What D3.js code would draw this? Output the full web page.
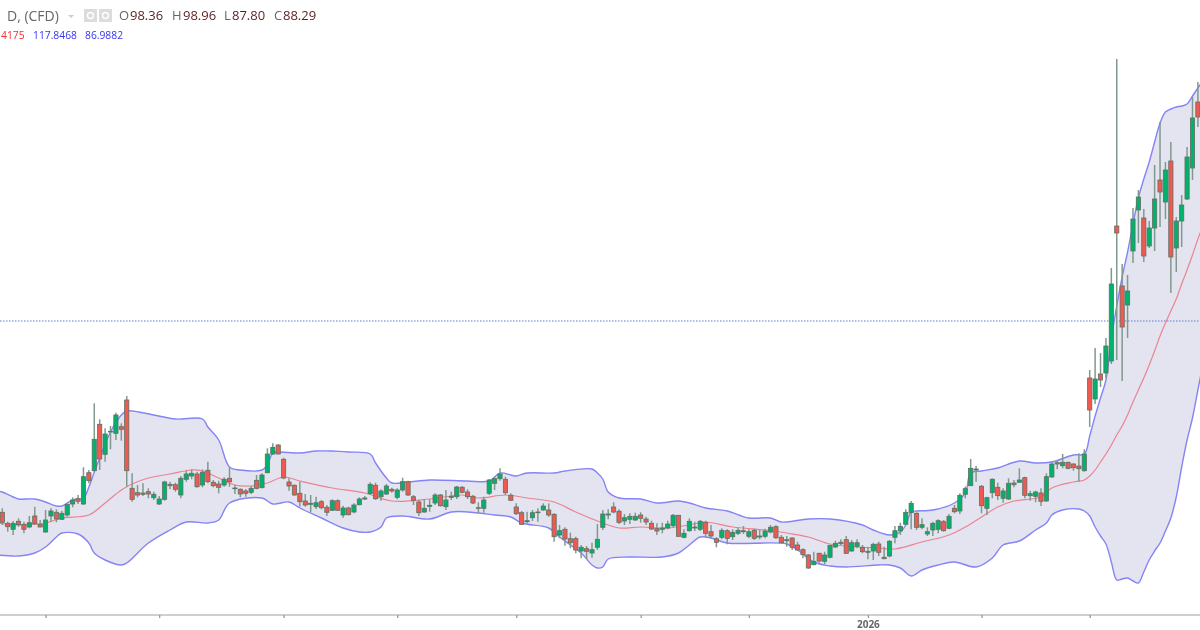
<!DOCTYPE html>
<html lang="en">
  <head>
    <meta charset="UTF-8" />
    <title>D, (CFD)</title>
    <style>
      html, body { margin: 0; padding: 0; background: #fff; }
      svg { display: block; filter: blur(0.45px); }
      text { font-family: "Open Sans", "DejaVu Sans", sans-serif; }
    </style>
  </head>
  <body>
    <div class="container"></div>

    <script src="https://d3js.org/d3.v7.min.js"></script>
    <script>
      // open, high, low, close of each session
      const ohlc = [
        [75.27,75.67,74.0,74.27],[74.17,74.33,73.33,73.83],[73.57,74.4,73.0,74.17],[74.37,74.67,73.83,74.03],
        [74.07,74.33,73.17,73.57],[73.8,74.9,73.67,74.23],[74.9,75.83,74.0,74.13],[74.07,74.5,73.77,73.8],
        [73.3,75.5,73.23,74.5],[74.9,75.67,74.33,75.4],[75.27,75.57,74.27,74.6],[74.57,75.43,74.5,75.17],
        [75.0,76.23,74.83,76.07],[76.1,76.77,75.77,76.5],[76.63,77.0,76.1,76.37],[76.1,79.77,76.0,78.83],
        [79.23,79.5,78.17,78.43],[79.43,86.17,79.33,82.57],[84.07,84.57,79.5,80.6],[81.07,83.67,80.33,83.1],
        [83.3,83.9,81.57,83.37],[83.17,85.23,82.5,85.0],[83.83,84.17,82.43,83.57],[86.5,86.9,77.83,79.43],
        [77.67,79.17,76.33,76.57],[77.23,78.0,76.77,77.0],[77.2,78.17,76.9,77.07],[77.33,77.67,76.67,77.1],
        [76.73,77.33,76.5,77.07],[76.1,76.9,76.0,76.6],[76.57,78.43,76.43,78.3],[78.07,78.33,77.57,77.93],
        [78.03,78.23,77.33,77.57],[77.0,78.9,76.67,78.67],[78.57,79.43,78.33,79.1],[78.9,79.57,78.57,79.17],
        [79.1,79.33,77.73,77.83],[78.0,79.57,77.77,79.27],[79.47,80.33,78.17,78.33],[78.27,78.5,77.77,77.93],
        [78.1,78.43,77.17,77.77],[78.0,78.77,77.83,78.57],[78.67,79.77,77.83,78.33],[77.63,78.0,77.1,77.7],
        [77.57,77.67,76.77,77.1],[77.4,77.6,76.83,77.17],[77.27,77.9,77.1,77.67],[78.47,79.0,77.57,77.67],
        [77.73,79.17,77.67,79.0],[79.23,81.67,79.17,81.1],[81.1,82.17,81.0,81.77],[82.0,82.07,81.07,81.1],
        [80.57,80.73,78.57,78.7],[78.3,78.67,77.43,77.9],[77.97,78.07,76.93,77.0],[77.17,78.33,75.83,76.33],
        [76.4,77.1,75.83,76.0],[76.07,77.0,75.27,76.17],[75.83,76.83,75.6,76.23],[76.33,76.5,75.57,75.73],
        [75.77,76.0,74.9,75.27],[75.47,76.57,75.4,76.43],[76.43,76.57,75.43,75.47],[75.0,75.93,74.73,75.7],
        [75.7,75.83,74.97,75.03],[75.3,76.17,75.17,76.0],[76.03,76.77,75.97,76.6],[76.6,76.9,76.5,76.7],
        [77.13,78.27,77.0,78.07],[77.97,78.23,76.5,76.63],[76.83,77.57,76.43,77.4],[77.1,78.1,77.0,77.9],
        [77.57,77.73,77.23,77.4],[76.77,77.67,76.57,77.5],[77.5,78.73,77.33,78.33],[78.33,78.43,76.9,77.0],
        [76.83,77.0,76.0,76.47],[76.3,76.5,74.9,75.23],[75.3,76.57,75.23,75.67],[75.87,76.57,75.33,75.97],
        [76.2,77.17,76.0,77.0],[77.0,77.1,75.83,75.93],[75.83,77.5,75.5,76.5],[76.77,77.33,76.5,76.87],
        [76.83,77.9,76.6,77.8],[77.77,77.9,77.17,77.27],[77.3,77.57,76.6,76.83],[76.87,77.0,76.1,76.2],
        [75.73,76.27,75.17,75.67],[75.67,76.83,75.23,76.5],[77.17,78.6,77.0,78.5],[78.17,78.83,77.5,78.63],
        [78.63,79.67,78.43,79.1],[78.57,78.83,77.0,77.23],[76.97,77.17,76.4,76.47],[75.8,76.17,75.0,75.13],
        [75.23,75.4,74.0,74.07],[74.33,75.33,74.17,74.43],[74.73,75.5,74.4,75.23],[75.3,75.67,74.33,75.23],
        [75.5,76.17,75.43,75.9],[75.5,76.17,74.83,75.0],[75.07,75.17,72.33,72.83],[73.0,74.0,72.67,73.43],
        [73.57,73.77,71.93,72.6],[72.63,73.23,71.67,72.23],[72.63,72.83,71.17,71.5],[71.4,72.0,70.67,71.77],
        [71.63,71.9,70.6,71.37],[71.2,72.23,70.73,71.53],[71.77,74.1,71.5,72.57],[73.77,75.5,73.5,75.1],
        [75.0,75.57,74.57,75.1],[75.8,76.27,75.17,75.3],[75.37,75.57,74.1,74.27],[74.4,75.1,74.0,74.73],
        [74.57,75.17,74.1,74.87],[74.5,75.23,74.4,74.87],[75.0,75.27,74.23,74.67],[74.6,74.83,74.0,74.3],
        [74.17,74.43,73.5,73.6],[73.63,74.17,73.0,73.4],[73.57,74.23,73.17,73.7],[73.7,74.43,73.57,74.1],
        [73.93,75.1,73.77,74.97],[74.97,75.0,72.83,72.87],[72.77,73.57,72.67,73.17],[73.43,74.67,73.33,74.37],
        [73.7,74.33,73.4,73.8],[73.57,74.5,73.4,74.37],[74.27,74.43,72.77,73.17],[73.33,74.0,72.67,72.9],
        [72.63,72.77,71.77,72.27],[72.77,73.67,72.57,73.47],[73.43,73.57,72.07,72.67],[72.83,73.57,72.5,73.27],
        [73.17,73.73,73.0,73.47],[73.43,73.9,73.1,73.33],[72.87,73.57,72.67,73.33],[73.47,73.63,72.5,72.67],
        [72.8,73.5,72.57,72.9],[72.87,73.63,72.67,73.4],[73.3,74.0,73.17,73.77],[73.83,73.97,72.6,72.73],
        [72.77,73.0,72.17,72.23],[72.43,72.9,71.83,72.53],[72.7,72.77,71.5,71.77],[72.0,72.33,71.4,71.5],
        [71.53,71.67,70.67,71.03],[71.0,71.1,69.6,69.7],[70.03,71.33,69.97,70.37],[71.17,71.23,70.23,70.4],
        [70.37,71.33,70.1,71.0],[70.77,72.0,70.67,71.97],[71.8,72.43,71.73,72.17],[72.27,72.57,72.0,72.13],
        [72.53,72.9,71.1,71.17],[71.4,72.5,71.33,72.23],[71.87,72.57,71.67,72.23],[71.77,72.0,71.17,71.33],
        [71.37,71.83,70.57,71.27],[71.4,72.23,70.5,72.07],[72.1,72.33,70.9,71.27],[70.77,71.83,70.57,70.63],
        [70.9,72.5,70.77,72.37],[72.77,73.9,72.17,73.43],[73.4,74.23,73.0,73.87],[74.07,75.57,74.0,75.27],
        [75.23,76.4,73.57,76.17],[75.17,75.27,73.5,73.77],[73.77,74.67,73.57,74.03],[73.1,73.77,72.9,73.33],
        [73.5,74.33,72.9,74.17],[73.57,74.57,73.17,74.43],[74.33,74.5,73.33,73.43],[73.67,75.1,73.57,74.87],
        [75.67,76.0,75.17,75.33],[75.4,77.17,75.1,76.97],[77.07,77.83,76.67,77.63],[77.93,80.6,77.9,79.67],
        [79.5,79.9,78.33,79.6],[77.87,78.0,75.17,75.93],[75.67,76.83,75.0,76.73],[77.23,78.67,76.67,78.57],
        [77.77,78.23,76.5,76.93],[76.67,77.67,76.23,77.4],[76.6,78.67,76.5,78.17],[78.2,78.5,77.77,78.03],
        [78.27,79.67,78.23,78.5],[78.73,78.83,76.67,76.97],[76.93,77.43,76.43,77.13],[76.87,77.43,76.27,77.3],
        [77.2,77.67,75.9,76.37],[76.4,79.17,76.33,78.83],[78.8,80.33,78.73,80.1],[80.23,80.5,79.57,80.1],
        [79.93,81.1,79.67,80.27],[80.27,80.33,79.57,79.67],[80.1,80.17,79.43,79.73],[79.9,81.17,78.33,79.63],
        [79.43,81.57,79.33,81.1],[88.7,89.5,83.8,85.5],[86.6,91.7,86.1,88.6],[89.1,91.2,87.8,88.5],
        [89.2,92.7,88.7,91.9],[90.4,99.7,90.1,98.1],[103.9,120.6,90.5,103.2],[97.9,100.1,88.4,93.8],
        [96.0,99.0,92.7,97.4],[101.4,105.7,100.2,104.6],[105.5,107.5,102.2,106.8],[104.7,105.6,100.3,100.9],
        [101.9,104.4,101.7,103.7],[103.7,110.0,101.4,106.6],[108.5,114.3,103.8,107.3],[106.3,110.3,104.6,109.5],
        [110.4,112.3,97.2,100.8],[101.7,104.8,99.3,104.4],[104.4,107.0,101.8,106.0],[106.6,111.8,106.5,110.8],
        [109.7,116.8,108.5,114.7],[116.3,118.3,113.8,114.8]
      ];

      // bollinger bands, [session, value] read where the line bends
      const upper = [
        [-1,77.4],[0,77.3],[2,76.8],[3,76.6],[6,76.6],[8,76.3],[10,75.9],[11,75.9],[13,76.5],[15,76.7],[16,77.8],[17,79.3],
        [18,80.7],[20,83.3],[22,85.0],[23,85.4],[28,85.0],[32,84.6],[37,84.6],[38,83.8],[40,82.5],[42,79.8],[44,79.5],
        [48,79.5],[49,80.0],[50,81.2],[51,81.3],[55,81.2],[58,81.4],[61,81.4],[64,81.3],[68,81.1],[69,80.2],[71,78.7],
        [72,78.2],[75,78.3],[79,78.5],[86,78.4],[90,78.4],[92,79.2],[94,79.0],[95,78.9],[97,79.2],[102,79.2],[104,79.4],
        [109,79.6],[110,79.2],[111,78.6],[112,77.3],[114,76.7],[118,76.6],[121,76.2],[125,76.4],[127,76.2],[130,75.7],
        [134,75.4],[138,74.7],[142,74.7],[144,74.3],[149,74.6],[153,74.6],[159,74.0],[161,73.5],[164,73.0],[166,73.3],
        [167,74.0],[168,75.3],[169,75.4],[172,75.5],[176,76.2],[178,77.2],[179,79.2],[181,79.4],[184,79.7],[188,80.4],
        [191,80.2],[194,80.3],[198,81.0],[200,81.1],[201,82.9],[202,84.9],[203,86.7],[204,88.5],[205,92.7],[206,95.9],
        [207,98.8],[208,101.3],[209,104.1],[210,106.7],[211,108.6],[212,110.3],[213,112.3],[214,114.2],[215,115.3],
        [216,115.6],[217,115.8],[218,115.9],[219,116.1],[220,116.9],[221,117.7],[222,118.5]
      ];
      const middle = [
        [-1,74.2],[3,74.0],[8,74.2],[11,74.7],[16,75.0],[19,76.2],[22,77.5],[24,78.1],[27,78.7],[31,79.1],[35,79.5],[37,79.4],
        [40,78.7],[43,78.0],[46,77.9],[49,78.2],[52,78.8],[55,78.4],[61,77.7],[67,77.2],[72,76.4],[79,76.6],[85,77.0],
        [88,76.7],[93,77.0],[97,76.7],[102,76.3],[106,75.3],[111,74.2],[114,73.7],[118,73.8],[123,73.7],[127,74.0],
        [130,74.3],[135,73.8],[141,73.5],[145,73.2],[149,72.8],[153,72.1],[158,71.8],[162,71.7],[165,71.6],[170,72.3],
        [175,73.0],[178,73.8],[181,74.8],[184,75.8],[187,76.4],[192,76.8],[194,77.7],[198,78.3],[200,78.5],[201,78.9],
        [202,79.5],[203,80.3],[204,81.1],[205,82.0],[206,83.0],[207,83.9],[208,85.0],[209,86.3],[210,87.5],[211,88.7],
        [212,90.0],[213,91.4],[214,92.9],[215,94.2],[216,95.4],[217,96.6],[218,98.1],[219,99.5],[220,101.0],[221,102.6],[222,104.0]
      ];
      const lower = [
        [-1,71.0],[3,70.9],[6,71.2],[8,71.8],[10,72.8],[11,73.2],[14,73.1],[16,72.2],[17,71.2],[19,70.5],[22,70.0],[23,70.2],
        [27,72.2],[31,73.5],[34,74.3],[38,74.2],[40,74.5],[42,76.2],[48,76.7],[50,76.1],[53,76.3],[55,75.7],[59,74.7],
        [63,73.7],[66,73.3],[68,73.3],[70,73.8],[71,74.7],[74,74.9],[79,74.6],[83,75.3],[86,75.3],[91,75.0],[94,74.8],
        [96,74.2],[101,73.7],[103,72.8],[107,71.2],[109,70.0],[110,69.7],[111,69.8],[112,70.6],[116,70.8],[122,70.8],
        [125,71.2],[127,72.0],[129,72.8],[131,72.7],[134,72.2],[145,72.1],[147,71.5],[150,70.3],[153,69.9],[156,69.8],
        [162,70.0],[164,70.0],[166,69.7],[168,68.9],[170,69.5],[173,70.0],[176,70.3],[180,69.8],[183,70.7],[185,72.0],
        [188,72.4],[191,73.5],[193,74.2],[194,75.0],[196,75.5],[199,75.6],[200,75.4],[201,74.9],[202,73.8],[203,72.9],
        [204,72.1],[205,70.3],[206,68.5],[207,68.6],[208,68.7],[209,68.4],[210,68.2],[211,69.3],[212,70.5],[213,71.4],
        [214,72.2],[215,73.4],[216,74.7],[217,76.8],[218,79.8],[219,82.5],[220,84.7],[221,87.5],[222,90.3]
      ];

      // x axis
      const tickSessions = [8, 29, 52, 73, 95, 118, 138, 160, 181, 201];
      const tickLabels = ["", "", "", "", "", "", "", "2026", "", ""];

      // horizontal price line
      const priceLine = 94.4;

      const W = 1200, H = 630;

      const svg = d3.select(".container").append("svg");
      svg.attr("width", W).attr("height", H).attr("viewBox", `0 0 ${W} ${H}`);

      const scX = d3.scaleLinear().domain([0, ohlc.length - 1]).range([2.3, 1197.9]);
      const scY = d3.scaleLinear().domain([126.5, 63.5]).range([0, H]);

      const line = d3
        .line()
        .x((d) => scX(d[0]))
        .y((d) => scY(d[1]))
        .curve(d3.curveCatmullRom.alpha(0.5));

      // band
      svg
        .append("path")
        .attr("d", line(upper) + "L" + line(lower.slice().reverse()).slice(1) + "Z")
        .attr("fill", "#e3e4f0");

      svg
        .append("line")
        .attr("x1", 0)
        .attr("x2", W)
        .attr("y1", scY(priceLine))
        .attr("y2", scY(priceLine))
        .attr("stroke", "#5f78cf")
        .attr("stroke-width", 1)
        .attr("stroke-dasharray", "1.5,1.5");

      svg
        .append("path")
        .attr("d", line(middle))
        .attr("fill", "none")
        .attr("stroke", "#ea8490")
        .attr("stroke-width", 1.2);

      svg
        .selectAll(".band")
        .data([upper, lower])
        .enter()
        .append("path")
        .attr("class", "band")
        .attr("d", (d) => line(d))
        .attr("fill", "none")
        .attr("stroke", "#8484f6")
        .attr("stroke-width", 1.4);

      // candles
      const candles = svg.selectAll(".candle").data(ohlc).enter().append("g").attr("class", "candle");

      candles
        .append("line")
        .attr("x1", (d, i) => scX(i))
        .attr("x2", (d, i) => scX(i))
        .attr("y1", (d) => scY(d[1]))
        .attr("y2", (d) => scY(d[2]))
        .attr("stroke", "#80998d")
        .attr("stroke-width", 1.5);

      candles
        .append("rect")
        .attr("x", (d, i) => scX(i) - 2.1)
        .attr("width", 4.2)
        .attr("y", (d) => scY(Math.max(d[0], d[3])))
        .attr("height", (d) => Math.max(0.5, Math.abs(scY(d[0]) - scY(d[3]))))
        .attr("fill", (d) => (d[3] >= d[0] ? "#00b26a" : "#ee5a50"))
        .attr("stroke", "#5f6f65")
        .attr("stroke-width", 0.8);

      // time axis
      const axis = d3
        .axisBottom(scX)
        .tickValues(tickSessions)
        .tickSize(3)
        .tickPadding(3)
        .tickFormat((d, i) => tickLabels[i]);

      const gAxis = svg.append("g").attr("transform", "translate(0,615)").call(axis);
      gAxis.select(".domain").attr("d", `M0,0H${W}`).attr("stroke", "#a0a0a0").attr("stroke-width", 1.2);
      gAxis.selectAll(".tick line").attr("stroke", "#999").attr("stroke-width", 1.3);
      gAxis
        .selectAll(".tick text")
        .attr("fill", "#666")
        .style("font-size", "10px")
        .style("font-weight", "bold")
        .style("font-family", '"Open Sans", sans-serif');

      // header
      const head = svg.append("g");
      head
        .append("text")
        .attr("x", 7)
        .attr("y", 21)
        .attr("fill", "#666")
        .style("font-size", "14px")
        .text("D, (CFD)");

      head
        .append("path")
        .attr("d", "M68,15h6l-3,3Z")
        .attr("fill", "#ccc");

      head
        .selectAll(".ico")
        .data([84, 99])
        .enter()
        .append("rect")
        .attr("class", "ico")
        .attr("x", (d) => d)
        .attr("y", 9)
        .attr("width", 13)
        .attr("height", 13)
        .attr("fill", "#dcdcdc");
      head
        .selectAll(".icoDot")
        .data([90.5, 105.5])
        .enter()
        .append("circle")
        .attr("class", "icoDot")
        .attr("cx", (d) => d)
        .attr("cy", 15.5)
        .attr("r", 3)
        .attr("fill", "none")
        .attr("stroke", "#fff")
        .attr("stroke-width", 1.4);

      const quote = [
        ["O", 119, "98.36", 130],
        ["H", 172, "98.96", 183],
        ["L", 224, "87.80", 232],
        ["C", 274, "88.29", 283],
      ];
      quote.forEach((q) => {
        head.append("text").attr("x", q[1]).attr("y", 20).attr("fill", "#666").style("font-size", "13px").text(q[0]);
        head.append("text").attr("x", q[3]).attr("y", 20).attr("fill", "#5c1f1f").style("font-size", "13px").text(q[2]);
      });

      const legend = [
        ["4175", 1, "#f03030"],
        ["117.8468", 33, "#3535f0"],
        ["86.9882", 85, "#3535f0"],
      ];
      legend.forEach((l) => {
        head.append("text").attr("x", l[1]).attr("y", 39).attr("fill", l[2]).style("font-size", "10.3px").text(l[0]);
      });
    </script>
  </body>
</html>
